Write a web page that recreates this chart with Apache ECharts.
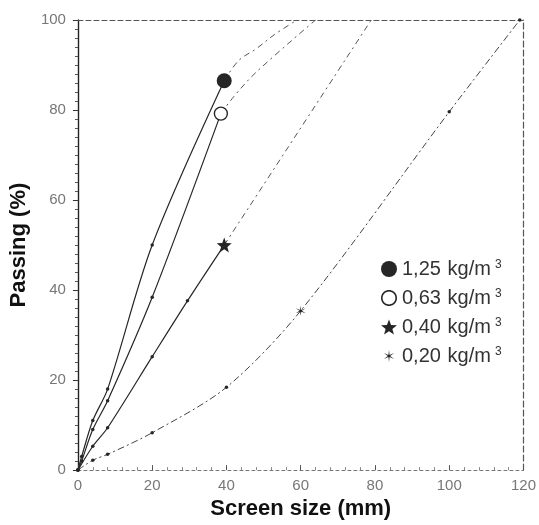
<!DOCTYPE html>
<html>
<head>
<meta charset="utf-8">
<script src="https://cdn.jsdelivr.net/npm/echarts@6/dist/echarts.min.js"></script>
<style>
  html, body { margin: 0; padding: 0; background: #fff; }
  #chart { width: 539px; height: 525px; }
</style>
</head>
<body>
<div id="chart"></div>
<script>
// grading curves, screen size (mm) vs passing (%)
const densities = ['1,25', '0,63', '0,40', '0,20'];

const size125 = [0, 1, 4, 8, 20, 39.4, 43.3, 48, 53, 59];
const pass125 = [0, 3, 11, 18, 50, 86.5, 91, 93.6, 96.8, 100];

const size063 = [0, 1, 4, 8, 20, 38.5, 42, 48, 64];
const pass063 = [0, 2, 9, 15.4, 38.4, 79.2, 83, 88.4, 100];

const size040 = [0, 4, 8, 20, 29.5, 39.4, 79];
const pass040 = [0, 5.3, 9.4, 25.2, 37.6, 50, 100];

const size020 = [0, 4, 8, 20, 40, 60, 100, 119];
const pass020 = [0, 2.2, 3.5, 8.3, 18.4, 35.4, 79.6, 100];

// index of the big marker in each curve (solid line ends there)
const markIdx = [5, 5, 5, 5];

const xTicks = [0, 20, 40, 60, 80, 100, 120];
const yTicks = [0, 20, 40, 60, 80, 100];

const ink = '#262626';

function ringPts(r, n, rev) {
    const pts = [];
    for (let i = 0; i < n; i++) {
        const a = 2 * Math.PI * i / n * (rev ? -1 : 1);
        pts.push((r * Math.cos(a)).toFixed(3) + ',' + (r * Math.sin(a)).toFixed(3));
    }
    return 'M' + pts.join('L') + 'Z';
}

function starPath(n, rOut, rIn, pad) {
    let d = '';
    for (let i = 0; i < n * 2; i++) {
        const r = i % 2 === 0 ? rOut : rIn;
        const a = Math.PI * i / n - Math.PI / 2;
        d += (i === 0 ? 'M' : 'L') + (r * Math.cos(a)).toFixed(3) + ',' + (r * Math.sin(a)).toFixed(3);
    }
    d += 'Z';
    if (pad) {
        d += 'M' + (-pad) + ',' + (-pad) + 'M' + pad + ',' + pad;
    }
    return 'path://' + d;
}

const starIcon = starPath(5, 1, 0.42);
const asteriskIcon = starPath(6, 1, 0.2);
const asteriskLegend = starPath(6, 1, 0.2, 1.35);
const ringIcon = 'path://' + ringPts(1, 40, false) + ringPts(0.8, 40, true);

const marks = [
    { symbol: 'circle', size: 15, style: { color: ink } },
    { symbol: 'circle', size: 13, style: { color: '#fff', borderColor: ink, borderWidth: 1.4 } },
    { symbol: starIcon, size: 15, style: { color: ink } },
    { symbol: asteriskIcon, size: 10, style: { color: ink } }
];

function points(xs, ys, k, from, to, j) {
    const out = [];
    for (let i = from; i <= to; i++) {
        const p = { value: [xs[i], ys[i]] };
        if (i === k) {
            p.symbol = marks[j].symbol;
            p.symbolSize = marks[j].size;
            p.itemStyle = marks[j].style;
        }
        out.push(p);
    }
    return out;
}

const curves = [
    [size125, pass125],
    [size063, pass063],
    [size040, pass040],
    [size020, pass020]
];

const series = [];
curves.forEach((c, j) => {
    const xs = c[0], ys = c[1], k = markIdx[j];
    const last = xs.length - 1;
    if (j < 3) {
        series.push({
            name: densities[j],
            type: 'line',
            smooth: 0.3,
            symbol: 'circle',
            symbolSize: 3.5,
            z: 3,
            itemStyle: { color: ink },
            lineStyle: { color: ink, width: 1.2 },
            data: points(xs, ys, k, 0, k, j)
        });
        series.push({
            name: densities[j] + '_ext',
            type: 'line',
            smooth: 0.35,
            symbol: 'none',
            lineStyle: { color: '#555', width: 1, type: [6, 4, 2, 4] },
            data: points(xs, ys, -1, k, last, j)
        });
    } else {
        series.push({
            name: densities[j],
            type: 'line',
            smooth: 0.3,
            symbol: 'circle',
            symbolSize: 3.5,
            z: 3,
            itemStyle: { color: ink },
            lineStyle: { color: '#444', width: 1, type: [7, 3, 2, 3] },
            data: points(xs, ys, k, 0, last, j)
        });
    }
});

const chart = echarts.init(document.getElementById('chart'));

chart.setOption({
    backgroundColor: '#fff',
    animation: false,
    grid: { left: 69, right: 12, top: 20, bottom: 48 },
    legend: {
        orient: 'vertical',
        left: 376,
        top: 254,
        itemWidth: 16,
        itemHeight: 16,
        itemGap: 9,
        data: [
            { name: '1,25', icon: 'circle', itemStyle: { color: ink } },
            { name: '0,63', icon: ringIcon, itemStyle: { color: ink } },
            { name: '0,40', icon: starIcon, itemStyle: { color: ink } },
            { name: '0,20', icon: asteriskLegend, itemStyle: { color: ink } }
        ],
        formatter: name => '{n|' + name + '}  {u|kg/m}{s|3}',
        textStyle: {
            rich: {
                n: { fontFamily: 'Liberation Sans', fontSize: 20, color: '#333', lineHeight: 23 },
                u: { fontFamily: 'Liberation Sans', fontSize: 20, color: '#333', lineHeight: 23 },
                s: { fontFamily: 'Liberation Sans', fontSize: 12, color: '#333', padding: [0, 0, 8, 4] }
            }
        }
    },
    xAxis: [{
        type: 'value',
        min: 0,
        max: 120,
        interval: 20,
        name: 'Screen size (mm)',
        nameLocation: 'middle',
        nameGap: 27,
        nameTextStyle: { fontFamily: 'Liberation Sans', fontWeight: 'bold', fontSize: 22, color: '#111' },
        axisLine: { onZero: false, lineStyle: { color: '#777', width: 1, type: [3, 3] } },
        axisTick: { inside: true, length: 5, lineStyle: { color: '#555' } },
        minorTick: { show: true, splitNumber: 5, length: 3, lineStyle: { color: '#888' } },
        axisLabel: {
            margin: 8,
            fontFamily: 'Liberation Sans',
            fontSize: 15,
            color: '#777',
            formatter: v => xTicks.includes(v) ? String(v) : ''
        },
        splitLine: { show: false }
    }, {
        type: 'value',
        position: 'top',
        min: 0,
        max: 120,
        axisLine: { show: true, onZero: false, lineStyle: { color: '#555', width: 1.2, type: [5, 3] } },
        axisTick: { show: false },
        axisLabel: { show: false },
        splitLine: { show: false }
    }],
    yAxis: [{
        type: 'value',
        min: 0,
        max: 100,
        interval: 20,
        name: 'Passing (%)',
        nameLocation: 'middle',
        nameGap: 36,
        nameTextStyle: { fontFamily: 'Liberation Sans', fontWeight: 'bold', fontSize: 22, color: '#111' },
        axisLine: { show: true, onZero: false, lineStyle: { color: '#222', width: 1.4 } },
        axisTick: { show: true, length: 5, lineStyle: { color: '#333' } },
        minorTick: { show: true, splitNumber: 10, length: 3, lineStyle: { color: '#555' } },
        axisLabel: {
            margin: 12,
            fontFamily: 'Liberation Sans',
            fontSize: 15,
            color: '#777',
            formatter: v => yTicks.includes(v) ? String(v) : ''
        },
        splitLine: { show: false }
    }, {
        type: 'value',
        position: 'right',
        min: 0,
        max: 100,
        axisLine: { show: true, onZero: false, lineStyle: { color: '#555', width: 1.2, type: [6, 3] } },
        axisTick: { show: false },
        axisLabel: { show: false },
        splitLine: { show: false }
    }],
    series: series
});
</script>
</body>
</html>
